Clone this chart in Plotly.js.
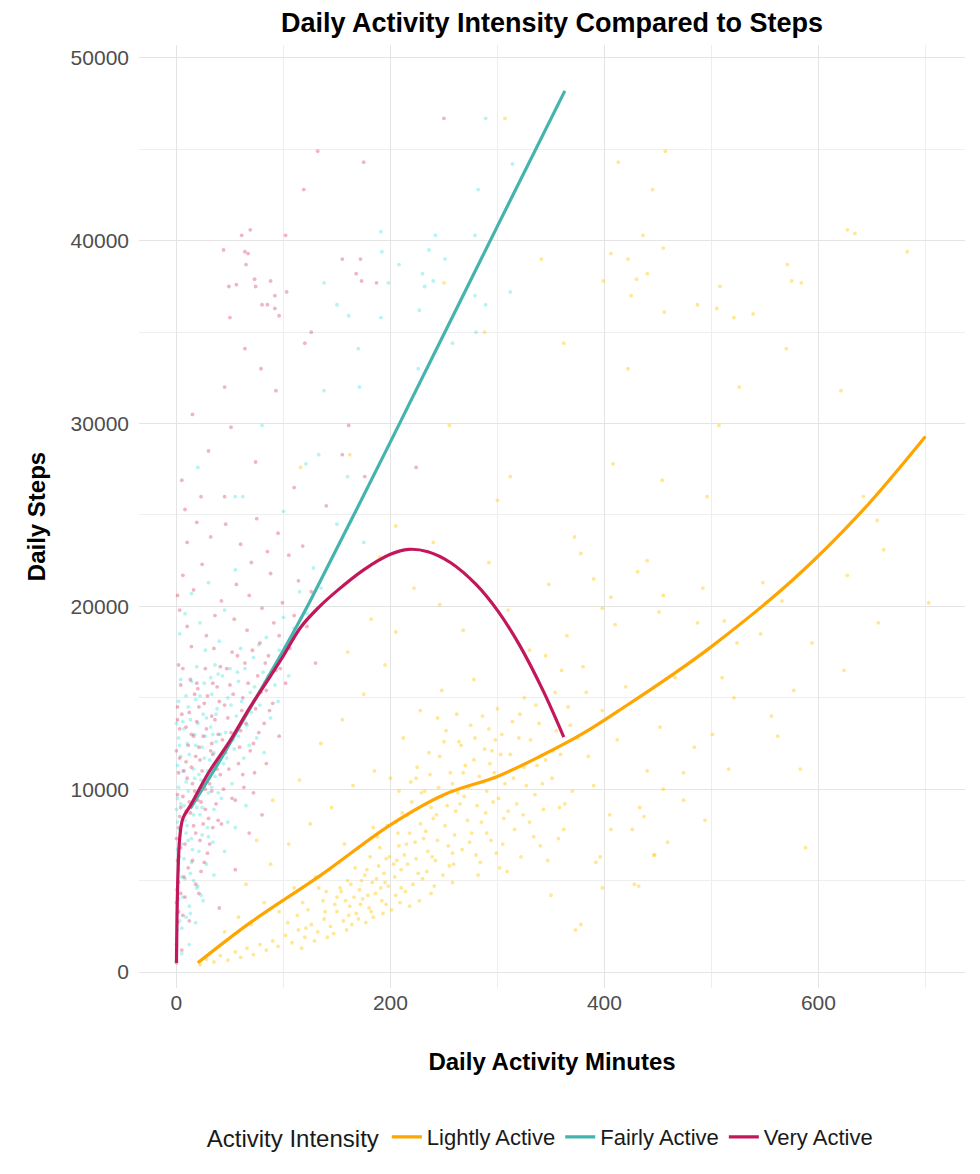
<!DOCTYPE html>
<html>
<head>
<meta charset="utf-8">
<script src="https://cdn.plot.ly/plotly-3.0.1.min.js"></script>
<style>
    html, body { margin: 0; padding: 0; background: #ffffff; }
    #chart { width: 980px; height: 1174px; }
</style>
</head>
<body>
<div id="chart"></div>
<script>
// Daily activity minutes vs daily steps, one cloud + smooth line per intensity
var seriesNames = ['Lightly Active', 'Fairly Active', 'Very Active'];

// points (minutes, steps)
var lightlyMinutes = [
    22, 28, 35, 41, 48, 55, 60, 66, 72, 78,
    84, 90, 95, 102, 108, 114, 120, 126, 132, 138,
    144, 150, 156, 162, 168, 174, 180, 186, 192, 198,
    45, 58, 70, 82, 96, 110, 118, 130, 140, 152,
    160, 170, 178, 188, 196, 205, 65, 88, 105, 125,
    145, 165, 185, 115, 135, 155, 175, 195, 90, 75,
    205, 210, 215, 220, 225, 230, 235, 240, 245, 250,
    255, 260, 265, 270, 275, 280, 285, 290, 295, 300,
    305, 310, 315, 320, 325, 212, 228, 248, 262, 278,
    218, 238, 258, 282, 302, 322, 340, 335, 345, 355,
    150, 158, 163, 171, 176, 183, 189, 194, 199, 203,
    208, 213, 218, 223, 228, 233, 238, 243, 248, 253,
    258, 263, 268, 273, 278, 283, 288, 293, 298, 303,
    208, 224, 236, 252, 266, 286, 296, 314, 325, 336,
    170, 182, 196, 210, 226, 242, 258, 274, 290, 306,
    160, 182, 205, 222, 246, 268, 292, 310, 330, 348,
    365, 380, 398, 372, 240, 300, 190, 205, 350, 362,
    370, 378, 385, 392, 398, 405, 412, 420, 428, 433,
    440, 447, 452, 459, 466, 474, 484, 494, 501, 510,
    516, 521, 524, 546, 556, 562, 577, 583, 588, 594,
    624, 656, 703, 566, 512, 487, 451, 410, 406, 455,
    492, 548, 390, 431, 440, 378, 627, 661, 655, 642,
    496, 454, 408, 507, 621, 526, 422, 570, 362, 456,
    487, 505, 521, 539, 425, 399, 430, 440, 508, 571,
    575, 584, 406, 422, 455, 627, 634, 683, 436, 445,
    413, 457, 307, 341, 250, 288, 255, 162, 116, 312,
    373, 396, 398, 432, 446, 426, 474, 455, 437, 406,
    330, 342, 352, 358, 366, 375, 383, 390, 360, 345,
    104, 117, 123, 129, 137, 141, 147, 153, 159, 164,
    167, 172, 177, 181, 184, 187, 191, 193, 197, 201,
    204, 207, 209, 211, 214, 216, 219, 221, 224, 227,
    229, 231, 234, 237, 239, 241, 244, 246, 249, 251,
    254, 256, 259, 261, 264, 267, 269, 272, 276, 279,
    281, 284, 287, 289, 292, 294, 297, 299, 301, 304,
    307, 309, 312, 316, 318, 321, 324, 327, 331, 334,
    337, 339, 343, 347, 351, 354, 357, 359, 363, 368,
    113, 121, 133, 139, 143, 148, 154, 157, 161, 166,
    173, 179, 184, 190, 195, 200, 206, 216, 232, 244
];
var lightlySteps = [
    400, 700, 550, 900, 650, 1100, 800, 1300, 950, 1500,
    1200, 1700, 1400, 2000, 1600, 2300, 1900, 2600, 2200, 2900,
    2500, 3300, 2800, 3600, 3200, 4000, 3500, 4300, 3900, 4700,
    2200, 3000, 2600, 3800, 3300, 4600, 3800, 5200, 4400, 6000,
    5000, 6800, 5600, 7400, 6200, 8200, 4800, 5900, 7000, 8100,
    9000, 10200, 11000, 10500, 12500, 13800, 15200, 16800, 9400, 7200,
    4200, 5600, 7000, 9300, 11200, 5100, 6600, 8400, 10100, 12600,
    5800, 7500, 9200, 11300, 13500, 6400, 8200, 9900, 12100, 14400,
    7000, 8800, 10600, 12800, 15000, 12800, 14300, 15400, 14100, 16000,
    3600, 4300, 4900, 5300, 5700, 6300, 6900, 9700, 11600, 13200,
    4100, 3900, 4800, 4500, 5300, 4900, 5800, 5400, 6300, 5900,
    6900, 6400, 7600, 7100, 8100, 7700, 9000, 8600, 9600, 9100,
    10300, 9800, 10900, 10100, 11600, 10700, 12200, 11400, 12700, 11900,
    9900, 10600, 12000, 13200, 12400, 14000, 9300, 13700, 11200, 14600,
    2900, 3300, 3700, 4600, 5400, 6100, 6500, 7100, 7600, 8400,
    17500, 19300, 18600, 21000, 20100, 18700, 22400, 19800, 17600, 21200,
    18400, 16700, 19900, 23800, 23500, 25800, 22700, 24400, 4200, 7800,
    9900, 2600, 11800, 6000, 14300, 8600, 12700, 15600, 4800, 9000,
    11000, 6400, 13400, 7100, 16100, 10900, 12300, 8300, 13000, 16100,
    11100, 15000, 18000, 18500, 14000, 12900, 15400, 11100, 6800, 18000,
    16500, 19100, 20200, 20300, 19200, 19100, 19700, 19000, 20500, 20600,
    21000, 21300, 21500, 21900, 22500, 22900, 21700, 23100, 24700, 26000,
    26000, 26900, 27800, 29900, 31800, 32000, 33000, 34100, 34400, 36100,
    36500, 36300, 35800, 36000, 37000, 37800, 37900, 38200, 37500, 38700,
    37800, 37700, 39300, 39000, 39600, 40600, 40400, 39400, 40300, 42800,
    44300, 44900, 46700, 39000, 37700, 35000, 29900, 28300, 27600, 27100,
    2300, 6300, 4600, 4700, 6400, 7800, 9400, 10000, 8500, 7800,
    8200, 10300, 12100, 9000, 14500, 12800, 15300, 10200, 16500, 17300,
    2700, 1300, 3400, 1700, 3900, 1900, 2100, 4600, 2300, 2600,
    5700, 3700, 2700, 6300, 3000, 5100, 4600, 3200, 8000, 3400,
    5200, 7600, 3800, 8700, 4400, 5900, 10400, 4800, 6200, 3900,
    9800, 7300, 5500, 10800, 6300, 4700, 7200, 11800, 5300, 8000,
    6900, 10900, 5900, 8800, 12600, 6700, 9600, 8300, 7600, 12800,
    9100, 6000, 10400, 8700, 13300, 7200, 10900, 6500, 9500, 13000,
    10300, 5500, 11900, 7800, 9200, 14100, 8600, 10200, 12700, 7400,
    11300, 13600, 8900, 6100, 10600, 15300, 7300, 11900, 9200, 13500,
    3100, 2400, 4600, 3300, 5600, 3700, 4400, 7000, 3100, 4100,
    5000, 4200, 7900, 6800, 4900, 10600, 6100, 8600, 9900, 13900
];

var fairlyMinutes = [
    0, 0, 1, 0, 2, 1, 3, 0, 2, 1,
    3, 0, 2, 4, 5, 6, 7, 8, 9, 10,
    11, 12, 13, 14, 15, 16, 17, 18, 19, 20,
    21, 22, 23, 24, 25, 26, 27, 28, 29, 30,
    31, 32, 33, 34, 35, 36, 37, 38, 39, 40,
    42, 44, 46, 48, 50, 52, 54, 56, 58, 60,
    63, 66, 69, 72, 75, 78, 81, 84, 88, 92,
    96, 100, 105, 110, 115, 122, 128, 135, 3, 8,
    14, 22, 30, 45, 55, 12, 18, 25, 35, 45,
    55, 65, 1, 4, 6, 11, 16, 23, 27, 36,
    48, 58, 70, 82, 95, 191, 192, 242, 236, 208,
    230, 251, 279, 289, 314, 282, 138, 198, 232, 240,
    279, 289, 312, 150, 161, 191, 227, 258, 280, 170,
    226, 171, 138, 80, 20, 133, 121, 160, 55, 62,
    150, 100, 175, 5, 9, 14, 19, 24, 29, 34,
    1, 2, 3, 1, 2, 4, 5, 6, 7, 8,
    9, 10, 11, 12, 13, 14, 15, 16, 17, 18,
    19, 20, 21, 22, 24, 26, 28, 30, 32, 33,
    35, 37, 39, 41, 43, 47, 51, 53, 57, 61,
    64, 68, 73, 77, 86, 3, 5, 7, 9, 13
];
var fairlySteps = [
    600, 1800, 3200, 4500, 5600, 6700, 7800, 8900, 10100, 11300,
    12400, 13600, 14800, 16000, 2400, 4100, 6200, 8300, 10400, 12500,
    14500, 3600, 5400, 7300, 9200, 11100, 13000, 14900, 16700, 4700,
    6600, 8600, 10500, 12300, 14100, 15800, 17600, 5900, 7900, 9800,
    11600, 13400, 15200, 7100, 8900, 10700, 12600, 14400, 16300, 18100,
    9500, 11400, 13100, 15000, 16600, 10300, 12200, 14000, 15900, 17700,
    11700, 13500, 15300, 17200, 12800, 14600, 16400, 18300, 13900, 15700,
    17600, 19400, 16200, 18800, 20800, 19600, 22100, 21000, 18500, 19600,
    20700, 19100, 21300, 19800, 22000, 1500, 2700, 3900, 5300, 6600,
    7900, 9100, 9500, 11800, 13700, 7200, 5000, 4200, 12900, 16800,
    8200, 12900, 14200, 12000, 14800, 40500, 39400, 40300, 39500, 38700,
    38200, 39000, 40300, 46700, 44200, 42800, 37700, 37700, 37500, 37800,
    37000, 36500, 37200, 36500, 35900, 35800, 36200, 34400, 35000, 34100,
    33000, 32000, 31800, 29900, 27600, 28300, 27800, 27100, 26000, 26000,
    24500, 25200, 23500, 1000, 3000, 6000, 9000, 7500, 11000, 13000,
    2300, 4000, 6300, 8200, 12800, 9200, 7000, 11000, 13300, 5100,
    15100, 8000, 9900, 11900, 13800, 15900, 6700, 8600, 10600, 12400,
    4600, 13600, 10800, 15100, 9000, 11700, 13900, 7400, 16100, 10100,
    12000, 14100, 9800, 13000, 16200, 11700, 14600, 12700, 16400, 14800,
    16600, 12400, 15600, 17900, 16200, 2800, 5200, 9100, 7600, 3200
];

var veryMinutes = [
    0, 0, 1, 0, 2, 1, 0, 3, 1, 2,
    0, 3, 1, 4, 2, 5, 6, 7, 8, 9,
    10, 11, 12, 13, 14, 15, 16, 17, 18, 19,
    20, 21, 22, 23, 24, 25, 26, 27, 28, 29,
    30, 31, 32, 33, 34, 35, 36, 37, 38, 39,
    40, 41, 42, 44, 46, 48, 50, 52, 54, 56,
    58, 60, 62, 64, 66, 68, 70, 72, 74, 76,
    78, 80, 82, 84, 86, 88, 90, 93, 96, 99,
    102, 106, 110, 114, 118, 122, 126, 130, 3, 6,
    10, 16, 24, 32, 46, 60, 75, 85, 95, 105,
    12, 18, 26, 34, 42, 52, 62, 72, 84, 96,
    40, 55, 68, 80, 1, 8, 19, 250, 132, 175,
    119, 61, 69, 102, 44, 64, 67, 65, 73, 88,
    74, 49, 56, 92, 80, 85, 92, 96, 50, 103,
    155, 172, 168, 173, 187, 126, 120, 64, 79, 45,
    93, 51, 161, 155, 74, 224, 176, 5, 23, 45,
    140, 110, 30, 15, 4, 9, 14, 21, 27, 33,
    2, 4, 6, 3, 5, 7, 9, 8, 11, 13,
    15, 16, 18, 19, 20, 22, 23, 25, 26, 28,
    29, 31, 33, 34, 36, 38, 39, 41, 43, 45,
    47, 49, 51, 53, 55, 57, 59, 61, 63, 65,
    67, 69, 71, 73, 77, 79, 83, 87, 91, 97,
    1, 2, 4, 6, 10, 12, 14, 17, 21, 27
];
var verySteps = [
    500, 1500, 2700, 3800, 4900, 6100, 7300, 8500, 9700, 10900,
    12100, 13300, 14500, 15700, 16800, 1200, 3100, 5200, 7000, 8800,
    10600, 12400, 14200, 16000, 17800, 6100, 8000, 9900, 11800, 13700,
    15500, 4300, 7200, 9300, 11000, 12900, 14700, 16600, 18400, 6500,
    8400, 10300, 12100, 14000, 15800, 17700, 19500, 9200, 11100, 13000,
    14800, 16700, 20300, 10000, 12000, 13900, 15700, 17500, 19300, 21200,
    11400, 13200, 15000, 16900, 18700, 20600, 22400, 12500, 14400, 16200,
    18000, 19900, 13600, 15400, 17300, 21800, 14700, 16500, 18400, 20200,
    15800, 17700, 19500, 21400, 23300, 18900, 20800, 16900, 19800, 21700,
    23500, 20900, 22300, 23800, 24500, 23400, 24800, 23000, 24000, 22800,
    2800, 4800, 6000, 7900, 8100, 9500, 10800, 9800, 11400, 12900,
    3500, 5600, 7600, 8600, 20600, 25300, 24600, 46700, 44900, 44300,
    42800, 40300, 40600, 40300, 39500, 39400, 39300, 38700, 37900, 37800,
    37500, 37500, 37600, 37000, 36500, 36500, 36300, 35900, 35800, 37200,
    39000, 39000, 38200, 37800, 37700, 35000, 34400, 34100, 33000, 32000,
    31800, 29800, 29900, 28300, 27900, 27600, 27100, 26900, 26000, 26000,
    25500, 26500, 28500, 30500, 9000, 11500, 13000, 14500, 10000, 12500,
    3300, 6800, 9600, 11700, 14100, 11000, 13400, 4100, 5700, 8700,
    10300, 12900, 7600, 15800, 9400, 11600, 5500, 8100, 10200, 13300,
    15100, 7000, 9900, 11900, 13800, 15600, 8300, 10800, 12700, 14600,
    16600, 11100, 13100, 15200, 9400, 17300, 12300, 14300, 10100, 13600,
    15800, 12100, 17600, 10900, 13100, 15300, 16900, 14300, 19100, 16600,
    13800, 7900, 4300, 16600, 18900, 9300, 11200, 15200, 12300, 8900
];

// smooth fit lines, sampled along the drawn curves
var lightlyFitX = [20, 69, 135, 200, 250, 300, 340, 380, 420, 462, 500, 577, 639, 700];
var lightlyFitY = [500, 2700, 5300, 8050, 9700, 10700, 11800, 13050, 14550, 16200, 17800, 21500, 25100, 29300];
var fairlyFitX = [13, 40, 69, 100, 125, 200, 300, 363];
var fairlyFitY = [8950, 11500, 14450, 17600, 20300, 29000, 40800, 48200];
var veryFitX = [0, 0.5, 1.5, 3, 6, 13, 30, 50, 69, 88, 100, 116, 133, 150, 175, 200, 217, 235, 256, 280, 300, 320, 343, 362];
var veryFitY = [500, 3000, 5500, 7300, 8400, 9100, 10900, 12640, 14500, 16200, 17300, 18850, 19950, 20850, 22000, 22850, 23120, 22990, 22400, 21200, 19780, 17950, 15350, 12850];

var xTicks = [0, 200, 400, 600];
var yTicks = [0, 10000, 20000, 30000, 40000, 50000];

(function() {
    'use strict';

    var FONT = 'Liberation Sans, Arial, Helvetica, sans-serif';
    var lineColors = ['#FFA500', '#45B3AE', '#C2185B'];
    var pointColors = ['rgba(255, 205, 30, 0.48)', 'rgba(60, 225, 225, 0.38)', 'rgba(215, 60, 100, 0.38)'];

    function makePoints(x, y, i) {
        return {
            x: x,
            y: y,
            type: 'scatter',
            mode: 'markers',
            name: seriesNames[i],
            showlegend: false,
            hoverinfo: 'skip',
            marker: { size: 3.8, color: pointColors[i], line: { width: 0 } }
        };
    }

    function makeFit(x, y, i, smoothing) {
        return {
            x: x,
            y: y,
            type: 'scatter',
            mode: 'lines',
            name: seriesNames[i],
            line: { color: lineColors[i], width: 3.2, shape: 'spline', smoothing: smoothing }
        };
    }

    var traces = [
        makePoints(lightlyMinutes, lightlySteps, 0),
        makePoints(fairlyMinutes, fairlySteps, 1),
        makePoints(veryMinutes, verySteps, 2),
        makeFit(lightlyFitX, lightlyFitY, 0, 1),
        makeFit(fairlyFitX, fairlyFitY, 1, 0.8),
        makeFit(veryFitX, veryFitY, 2, 1)
    ];

    var layout = {
        width: 980,
        height: 1174,
        margin: { t: 45, r: 15, b: 186, l: 139 },
        paper_bgcolor: '#ffffff',
        plot_bgcolor: '#ffffff',
        font: { family: FONT, color: '#1a1a1a' },
        title: {
            text: '<b>Daily Activity Intensity Compared to Steps</b>',
            font: { family: FONT, size: 27, color: '#000000' },
            x: 0.5,
            xref: 'paper',
            xanchor: 'center',
            y: 0.981,
            yanchor: 'middle'
        },
        xaxis: {
            range: [-35, 737],
            tickvals: xTicks,
            ticktext: xTicks.map(String),
            ticks: '',
            showline: false,
            zeroline: false,
            gridcolor: '#e4e4e4',
            gridwidth: 1.4,
            minor: { tickvals: [100, 300, 500, 700], showgrid: true, gridcolor: '#eeeeee', gridwidth: 0.9 },
            tickfont: { family: FONT, size: 21, color: '#4d4d4d' },
            ticklabelstandoff: 0,
            title: {
                text: '<b>Daily Activity Minutes</b>',
                font: { family: FONT, size: 24, color: '#000000' },
                standoff: 40
            }
        },
        yaxis: {
            range: [-875, 50710],
            tickvals: yTicks,
            ticktext: yTicks.map(String),
            ticks: '',
            showline: false,
            zeroline: false,
            gridcolor: '#e4e4e4',
            gridwidth: 1.4,
            minor: { tickvals: [5000, 15000, 25000, 35000, 45000], showgrid: true, gridcolor: '#eeeeee', gridwidth: 0.9 },
            tickfont: { family: FONT, size: 21, color: '#4d4d4d' },
            ticklabelstandoff: 9,
            title: {
                text: '<b>Daily Steps</b>',
                font: { family: FONT, size: 24, color: '#000000' },
                standoff: 18
            }
        },
        legend: {
            orientation: 'h',
            x: 0.487,
            xanchor: 'center',
            y: -0.158,
            yanchor: 'middle',
            font: { family: FONT, size: 22, color: '#1a1a1a' },
            title: { text: 'Activity Intensity', side: 'left', font: { family: FONT, size: 24, color: '#1a1a1a' } },
            itemwidth: 30,
            bgcolor: 'rgba(0,0,0,0)'
        },
        hovermode: false
    };

    Plotly.newPlot('chart', traces, layout, { displayModeBar: false, responsive: false });
})();
</script>
</body>
</html>
